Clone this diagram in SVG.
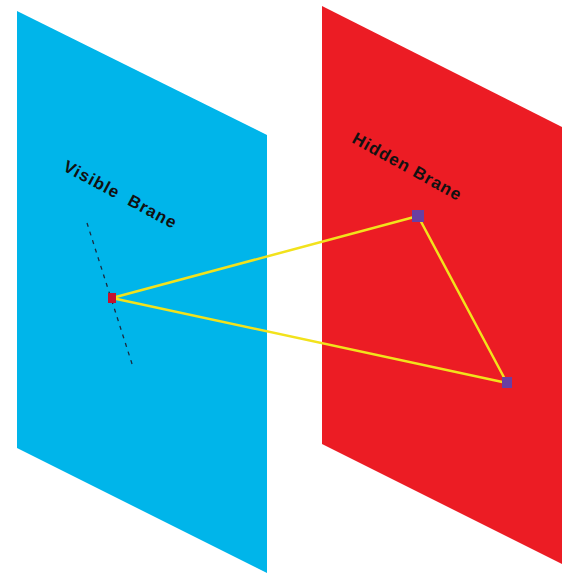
<svg xmlns="http://www.w3.org/2000/svg" width="562" height="574" viewBox="0 0 562 574">
<style>
.lbl{font-family:"Liberation Sans",Arial,sans-serif;font-size:17px;font-weight:bold;fill:#111;letter-spacing:1px;white-space:pre;}
.link{stroke:#f2e21c;stroke-width:2.5;fill:none;stroke-linecap:round;}
.pt{fill:#6a3fa3;}
</style>
<rect width="562" height="574" fill="#ffffff"/>
<g id="visible-brane">
<polygon points="17,11 267,135 267,573 17,448" fill="#00b5ea"/>
<text class="lbl" x="62" y="170" transform="rotate(28 62 170)" xml:space="preserve">Visible  Brane</text>
</g>
<g id="hidden-brane">
<polygon points="322,6 562,127 562,564 322,444" fill="#ec1c24"/>
<text class="lbl" x="351" y="142" transform="rotate(29 351 142)">Hidden Brane</text>
</g>
<g id="worldline">
<line x1="87" y1="223" x2="133" y2="367" stroke="#1a2a40" stroke-width="1.3" stroke-dasharray="4 5"/>
</g>
<g id="connectors">
<line class="link" x1="112" y1="298" x2="418" y2="216"/>
<line class="link" x1="112" y1="298" x2="507" y2="383"/>
<line class="link" x1="418" y1="216" x2="507" y2="383"/>
</g>
<g id="point-visible">
<rect x="108" y="293" width="8" height="10" fill="#c4122f"/>
</g>
<g id="point-hidden-1">
<rect class="pt" x="412" y="210" width="12" height="12"/>
</g>
<g id="point-hidden-2">
<rect class="pt" x="502" y="377" width="10" height="11"/>
</g>
</svg>
